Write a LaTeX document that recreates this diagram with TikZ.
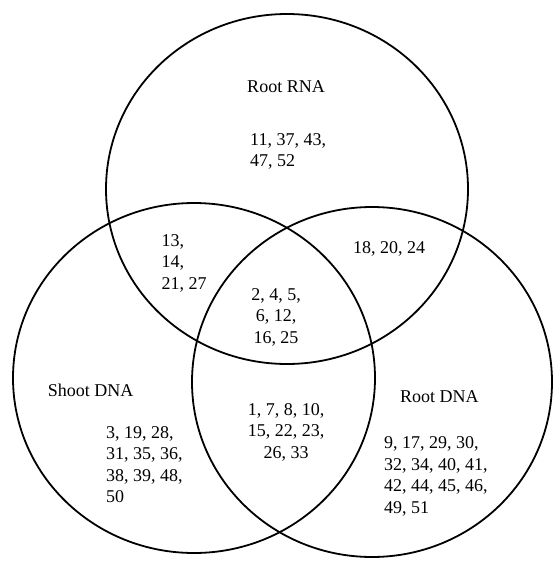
\documentclass[tikz,border=0pt]{standalone}
\usepackage{fontspec}
\setmainfont{Liberation Serif}
\begin{document}
\begin{tikzpicture}[x=1pt,y=-1pt,
  ring/.style={line width=1.8pt,black},
  lbl/.style={inner sep=0pt,font=\fontsize{18}{21.5}\selectfont},
  lblL/.style={lbl,align=left,anchor=base west},
  lblC/.style={lbl,align=center,anchor=base}]
\useasboundingbox[fill=white] (0,0) rectangle (553,570);
\draw[ring] (287,189) ellipse [x radius=181, y radius=175];
\draw[ring] (194,378) ellipse [x radius=181, y radius=175];
\draw[ring] (372,382) ellipse [x radius=180, y radius=175];
% multi-line nodes: base anchor is the baseline of the last line
\node[lblC] (rrna) at (286,92) {Root RNA};
\node[lblL] (a) at (250,166.5) {11, 37, 43,\\47, 52};
\node[lblL] (b) at (161.5,289) {13,\\14,\\21, 27};
\node[lblL] (c) at (353,253) {18, 20, 24};
\node[lblC] (d) at (276,343) {2, 4, 5,\\6, 12,\\16, 25};
\node[lblL] (sdna) at (47.6,396) {Shoot DNA};
\node[lblL] (e) at (106,502.5) {3, 19, 28,\\31, 35, 36,\\38, 39, 48,\\50};
\node[lblC] (f) at (286,458) {1, 7, 8, 10,\\15, 22, 23,\\26, 33};
\node[lblL] (rdna) at (400,402) {Root DNA};
\node[lblL] (g) at (384,513) {9, 17, 29, 30,\\32, 34, 40, 41,\\42, 44, 45, 46,\\49, 51};
\end{tikzpicture}
\end{document}
